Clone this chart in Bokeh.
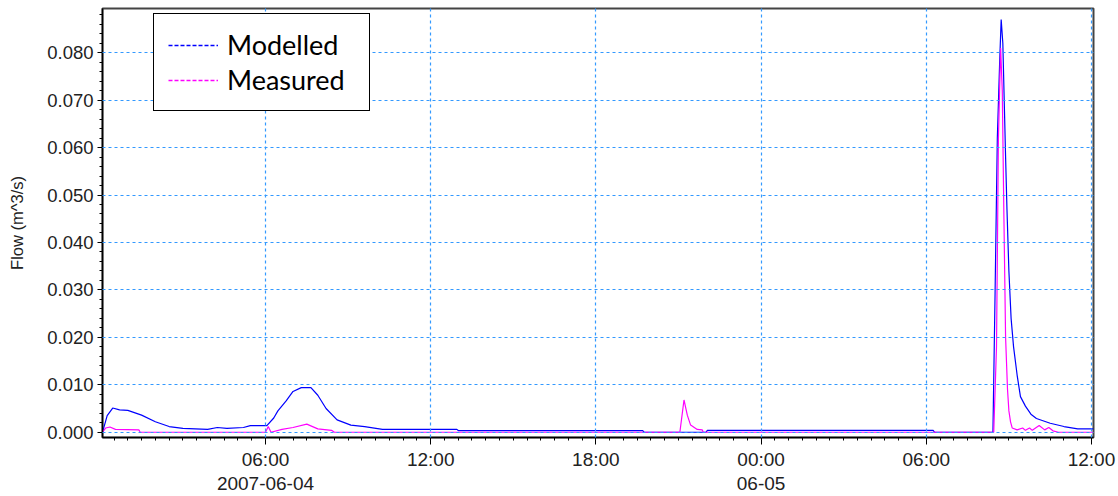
from bokeh.plotting import figure
from bokeh.models import (Range1d, FixedTicker, CustomJSTickFormatter, PrintfTickFormatter,
                          Legend, LegendItem)
from bokeh.embed import file_html
from bokeh.resources import INLINE

# hours since 2007-06-04 00:00
modelled_hours = [0.08, 0.25, 0.45, 0.7, 1.0, 1.5, 2.0, 2.5, 3.0, 3.9, 4.25, 4.6, 5.2, 5.45,
                  6.05, 6.3, 6.45, 6.75, 7.0, 7.3, 7.65, 7.9, 8.2, 8.6, 9.1, 9.6, 10.25,
                  12.95, 13.0, 19.7, 19.75, 22.0, 22.05, 30.25, 30.3, 32.42, 32.5, 32.58,
                  32.67, 32.72, 32.78, 32.83, 32.88, 32.93, 33.0, 33.08, 33.17, 33.3, 33.42,
                  33.6, 33.8, 34.0, 34.5, 35.0, 35.5, 36.07]
modelled_flow = [0.0, 0.0035, 0.0051, 0.0047, 0.0046, 0.0036, 0.0022, 0.0012, 0.0008, 0.0006,
                 0.0010, 0.0008, 0.0010, 0.0014, 0.0014, 0.0030, 0.0045, 0.0066, 0.0086,
                 0.0094, 0.0094, 0.0078, 0.0050, 0.0026, 0.0015, 0.0012, 0.0006, 0.0006,
                 0.00035, 0.00035, 0.0, 0.0, 0.0004, 0.0004, 0.0, 0.0, 0.030, 0.062, 0.079,
                 0.087, 0.082, 0.070, 0.058, 0.047, 0.034, 0.024, 0.018, 0.012, 0.0075,
                 0.0055, 0.0038, 0.0029, 0.0019, 0.0012, 0.0007, 0.0007]

measured_hours = [0.08, 0.2, 0.35, 0.55, 1.4, 1.45, 6.0, 6.1, 6.2, 6.6, 7.0, 7.5, 7.9, 8.4,
                  8.5, 21.05, 21.2, 21.32, 21.44, 21.68, 21.86, 21.9, 32.45, 32.55, 32.62,
                  32.70, 32.76, 32.82, 32.88, 32.95, 33.0, 33.06, 33.12, 33.3, 33.5, 33.6,
                  33.75, 33.85, 34.1, 34.3, 34.45, 34.6, 34.8, 36.07]
measured_flow = [0.0, 0.0009, 0.0011, 0.0006, 0.0005, 0.0, 0.0, 0.0012, 0.0, 0.0006, 0.0010,
                 0.0017, 0.0007, 0.0004, 0.0, 0.0, 0.0068, 0.0036, 0.0015, 0.0006, 0.0005,
                 0.0, 0.0, 0.018, 0.062, 0.081, 0.072, 0.045, 0.020, 0.009, 0.0045, 0.0022,
                 0.0009, 0.0005, 0.0009, 0.0004, 0.0009, 0.0004, 0.0014, 0.0005, 0.0010,
                 0.0003, 0.0, 0.0]

tick_hours = [6, 12, 18, 24, 30, 36]
tick_labels = ["06:00\n2007-06-04", "12:00", "18:00", "00:00\n06-05", "06:00", "12:00"]
minor_hours = [h * 0.5 for h in range(1, 73)]
y_ticks = [0.0, 0.01, 0.02, 0.03, 0.04, 0.05, 0.06, 0.07, 0.08]
y_minor = [i * 0.002 for i in range(0, 45)]
series_names = ["Modelled", "Measured"]
series_colors = ["#0000ff", "#ff00ff"]

p = figure(width=1118, height=496, output_backend="svg", toolbar_location=None,
           x_range=Range1d(0.08, 36.073), y_range=Range1d(-0.00111, 0.08931),
           min_border_left=102, min_border_right=25, min_border_top=8, min_border_bottom=57)

p.background_fill_color = "white"
p.border_fill_color = "white"
p.outline_line_color = "#444444"
p.outline_line_width = 2

r1 = p.line(modelled_hours, modelled_flow, line_color=series_colors[0], line_width=1.2)
r2 = p.line(measured_hours, measured_flow, line_color=series_colors[1], line_width=1.2)

# legend proxies (dashed, like the reference legend), placed outside the visible range
d1 = p.line([-5, -4], [0, 0], line_color=series_colors[0], line_width=1.3, line_dash="4 2")
d2 = p.line([-5, -4], [0, 0], line_color=series_colors[1], line_width=1.3, line_dash="4 2")
legend = Legend(items=[LegendItem(label=series_names[0], renderers=[d1]),
                       LegendItem(label=series_names[1], renderers=[d2])],
                location=(51, 326))
legend.label_text_font = "Lato"
legend.label_text_font_size = "27px"
legend.label_text_color = "black"
legend.label_height = 31
legend.label_standoff = 9
legend.label_width = 128
legend.glyph_width = 50
legend.glyph_height = 20
legend.padding = 14
legend.spacing = 2
legend.margin = 0
legend.border_line_color = "black"
legend.border_line_alpha = 1.0
legend.border_line_width = 1.2
legend.background_fill_alpha = 1.0
p.add_layout(legend)

# x axis
p.xaxis.ticker = FixedTicker(ticks=tick_hours, minor_ticks=minor_hours)
p.xaxis.formatter = CustomJSTickFormatter(args=dict(tpos=tick_hours, tlab=tick_labels),
                                          code="""
const i = tpos.indexOf(Math.round(tick));
return i >= 0 ? tlab[i] : '';
""")
p.xaxis.major_label_text_line_height = 1.15
p.xaxis.major_tick_out = 7
p.xaxis.major_tick_in = 0
p.xaxis.minor_tick_out = 3
p.xaxis.minor_tick_in = 0
p.xaxis.major_label_standoff = 4

# y axis
p.yaxis.ticker = FixedTicker(ticks=y_ticks, minor_ticks=y_minor)
p.yaxis.formatter = PrintfTickFormatter(format="%.3f")
p.yaxis.axis_label = "Flow (m^3/s)"
p.yaxis.axis_label_text_font = "Liberation Sans"
p.yaxis.axis_label_text_font_size = "16.5px"
p.yaxis.axis_label_text_font_style = "normal"
p.yaxis.axis_label_text_color = "#222222"
p.yaxis.axis_label_standoff = 18
p.yaxis.major_tick_out = 5
p.yaxis.major_tick_in = 0
p.yaxis.minor_tick_out = 3
p.yaxis.minor_tick_in = 0
p.yaxis.major_label_standoff = 4

for ax in (p.xaxis, p.yaxis):
    ax.axis_line_color = "black"
    ax.axis_line_width = 1.5
    ax.major_tick_line_color = "black"
    ax.minor_tick_line_color = "black"
    ax.major_label_text_font = "Liberation Sans"
    ax.major_label_text_color = "#222222"
p.yaxis.major_label_text_font_size = "18.5px"
p.xaxis.major_label_text_font_size = "19px"

for g in (p.xgrid, p.ygrid):
    g.grid_line_color = "#3399ff"
    g.grid_line_dash = "3 3"
    g.grid_line_width = 1.2
    g.level = "annotation"
p.xgrid.ticker = FixedTicker(ticks=tick_hours)
p.ygrid.ticker = FixedTicker(ticks=y_ticks)

open("out.html", "w").write(file_html(p, INLINE))
